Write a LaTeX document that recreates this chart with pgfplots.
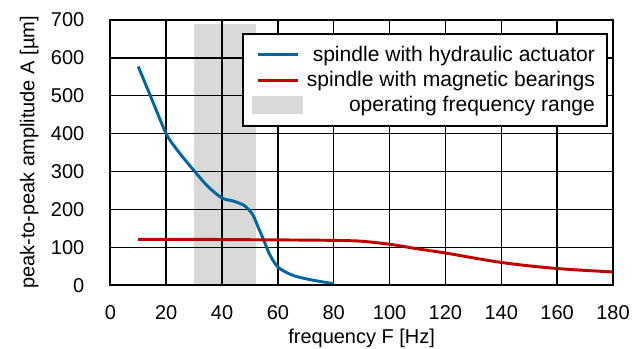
\documentclass[border=0pt]{standalone}
\usepackage{fontspec}
\setmainfont{Liberation Sans}
\usepackage{pgfplots}
\pgfplotsset{compat=1.18}
\definecolor{cblue}{RGB}{0,102,160}
\definecolor{cred}{RGB}{192,0,0}
\definecolor{cband}{RGB}{217,217,217}
\begin{document}
\begin{tikzpicture}
\begin{axis}[
  scale only axis,
  width=377pt, height=199pt,
  xmin=0, xmax=180, ymin=0, ymax=700,
  xtick={0,20,40,60,80,100,120,140,160,180}, ytick={0,100,200,300,400,500,600,700},
  axis line style={black, line width=1.6pt},
  axis on top,
  major tick length=0pt,
  /pgf/number format/assume math mode=true,
  tick label style={font=\fontsize{15}{18}\selectfont},
  label style={font=\fontsize{15}{18}\selectfont},
  xlabel={frequency F [Hz]},
  ylabel={peak-to-peak amplitude A [µm]},
  xticklabel style={yshift=-11.5pt, inner xsep=10pt},
  yticklabel style={xshift=-16pt, inner ysep=9.6pt},
  xlabel style={at={([yshift=-39.5pt]axis description cs:0.5,0)}, anchor=center, inner ysep=1.25pt},
  ylabel style={at={([xshift=-60.75pt]axis description cs:0,0.5)}, anchor=center, inner ysep=15pt},
  legend style={at={(rel axis cs:0.99,0.95)}, anchor=north east,
    draw=black, line width=1.5pt, font=\fontsize{15.8}{19}\selectfont,
    inner xsep=7pt, inner ysep=7pt, row sep=2pt, column sep=1pt},
  legend cell align=right,
  legend image post style={xscale=1.757},
  gridline/.style={black, line width=1.1pt, forget plot},
]
\addplot[fill=cband, draw=none, forget plot]
  coordinates {(30,0) (30,690) (52,690) (52,0)} -- cycle;
% grid lines
\addplot[gridline] coordinates {(20,0) (20,700)};
\addplot[gridline] coordinates {(40,0) (40,700)};
\addplot[gridline] coordinates {(60,0) (60,700)};
\addplot[gridline] coordinates {(80,0) (80,700)};
\addplot[gridline] coordinates {(100,0) (100,700)};
\addplot[gridline] coordinates {(120,0) (120,700)};
\addplot[gridline] coordinates {(140,0) (140,700)};
\addplot[gridline] coordinates {(160,0) (160,700)};
\addplot[gridline] coordinates {(0,100) (180,100)};
\addplot[gridline] coordinates {(0,200) (180,200)};
\addplot[gridline] coordinates {(0,300) (180,300)};
\addplot[gridline] coordinates {(0,400) (180,400)};
\addplot[gridline] coordinates {(0,500) (180,500)};
\addplot[gridline] coordinates {(0,600) (180,600)};
% data
\addplot[cblue, line width=2.2pt, smooth, tension=0.5] coordinates {
 (10,577) (15,488) (20,400) (24,356) (30,302) (35,260) (40,230) (44,222)
 (48,210) (51,186) (53,152) (55,118) (57,82) (60,48) (65,27) (70,17) (75,10) (80,4)};
\addlegendentry{spindle with hydraulic actuator}
\addplot[cred, line width=2.2pt, smooth, tension=0.5] coordinates {
 (10,121) (30,121) (50,120) (70,119) (82,118) (90,116) (100,108) (110,96)
 (120,85) (130,72) (140,60) (150,51) (160,44) (170,39) (180,35)};
\addlegendentry{spindle with magnetic bearings}
\addlegendimage{area legend, fill=cband, draw=cband, line width=8pt}
\addlegendentry{operating frequency range}
\end{axis}
\end{tikzpicture}
\end{document}
